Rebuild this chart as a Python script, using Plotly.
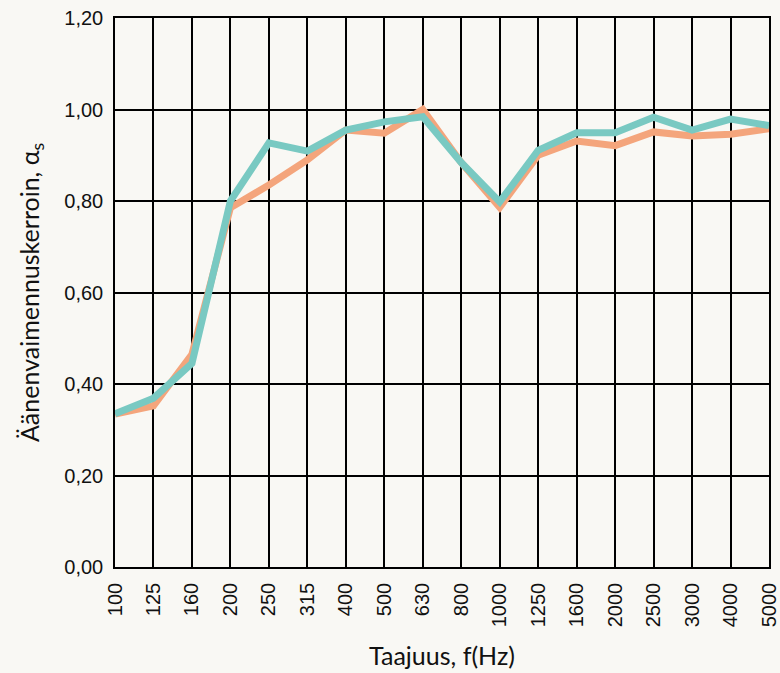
import plotly.graph_objects as go

freqs = ["100", "125", "160", "200", "250", "315", "400", "500", "630", "800",
         "1000", "1250", "1600", "2000", "2500", "3000", "4000", "5000"]
orange_vals = [0.334, 0.352, 0.465, 0.785, 0.835, 0.890, 0.955, 0.948, 1.000, 0.884,
               0.786, 0.900, 0.931, 0.921, 0.951, 0.942, 0.946, 0.958]
teal_vals = [0.335, 0.369, 0.445, 0.800, 0.927, 0.909, 0.955, 0.973, 0.984, 0.884,
             0.798, 0.911, 0.949, 0.949, 0.983, 0.955, 0.979, 0.965]
y_ticks = [0, 0.2, 0.4, 0.6, 0.8, 1.0, 1.2]

bg = "#f9f8f4"

fig = go.Figure()
fig.add_trace(go.Scatter(x=freqs, y=orange_vals, mode="lines",
                         line=dict(color="#f4a57c", width=7), showlegend=False))
fig.add_trace(go.Scatter(x=freqs, y=teal_vals, mode="lines",
                         line=dict(color="#79c9c2", width=7), showlegend=False))

fig.update_layout(
    width=780, height=673,
    margin=dict(l=115, r=11, t=18, b=106),
    paper_bgcolor=bg, plot_bgcolor=bg,
    separators=", ",
    font=dict(family="Liberation Sans, Arial, sans-serif", color="#111111", size=20),
)
fig.update_xaxes(
    type="category", range=[0, len(freqs) - 1], automargin=False,
    tickangle=-90, tickfont=dict(size=20, family="Liberation Sans, Arial"),
    showgrid=True, gridcolor="#000000", gridwidth=1.5,
    showline=True, linecolor="#000000", linewidth=1.5, mirror=True,
    ticks="outside", ticklen=6, tickcolor=bg,
    title=dict(text="Taajuus, f(Hz)", font=dict(family="Lato, sans-serif", size=25), standoff=21),
)
fig.update_yaxes(
    range=[0, 1.2], tickvals=y_ticks, tickformat=".2f", automargin=False,
    tickfont=dict(size=20, family="Liberation Sans, Arial"),
    showgrid=True, gridcolor="#000000", gridwidth=1.5,
    showline=True, linecolor="#000000", linewidth=1.5, mirror=True,
    zeroline=False, ticks="outside", ticklen=6, tickcolor=bg,
    title=dict(text="Äänenvaimennuskerroin, α<sub>s</sub>", font=dict(family="Lato, sans-serif", size=25), standoff=18),
)

fig.write_html(
    "out.html",
    config={"displayModeBar": False},
    post_script="document.body.style.margin='0';document.body.style.background='%s';" % bg,
)
